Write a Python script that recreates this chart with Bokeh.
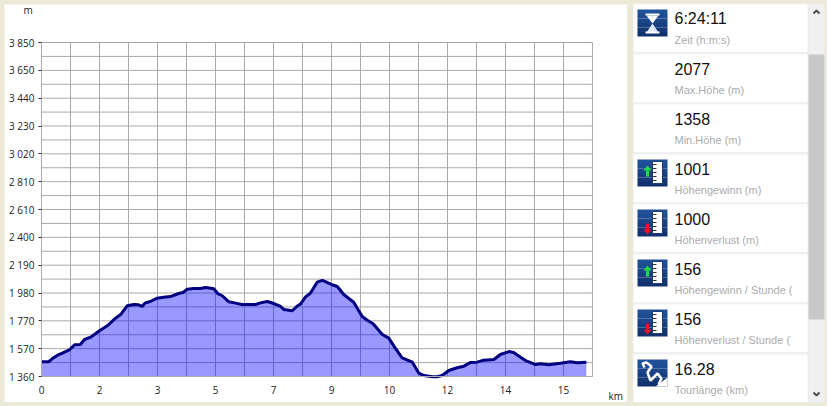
from bokeh.plotting import figure
from bokeh.layouts import row
from bokeh.models import Range1d, FixedTicker, Label
from bokeh.embed import file_html
from bokeh.resources import INLINE
from bokeh.core.properties import value

km = [0.01,0.21,0.31,0.46,0.61,0.83,0.97,1.14,1.26,1.44,1.71,1.94,2.17,2.32,2.51,2.71,2.83,2.95,3.03,3.19,
      3.39,3.58,3.78,4.02,4.15,4.27,4.46,4.66,4.81,5.05,5.17,5.30,5.49,5.69,5.88,6.27,6.42,6.62,6.81,7.01,
      7.10,7.35,7.49,7.59,7.74,7.88,8.08,8.23,8.32,8.52,8.67,8.86,9.15,9.40,9.55,9.72,9.99,10.18,10.38,10.57,
      10.87,11.06,11.21,11.45,11.60,11.74,11.94,12.18,12.38,12.57,12.77,12.96,13.26,13.45,13.70,13.84,14.04,14.19,14.48,14.63,
      14.87,15.21,15.50,15.70,15.97]
elevation = [1470,1470,1492,1517,1534,1561,1596,1599,1636,1653,1703,1740,1795,1822,1887,1897,1895,1882,1907,1919,
             1944,1951,1956,1979,1986,2011,2016,2016,2024,2014,1977,1962,1917,1907,1897,1897,1909,1919,1904,1882,
             1860,1850,1884,1900,1954,1981,2063,2077,2068,2044,2031,1971,1914,1807,1780,1753,1673,1646,1567,1499,
             1467,1385,1367,1358,1358,1367,1405,1425,1437,1464,1467,1482,1487,1524,1546,1539,1504,1479,1449,1455,
             1447,1459,1470,1462,1467]
x_ticks = [0,1.7,3.4,5.1,6.8,8.5,10.2,11.9,13.6,15.3]
x_labels = ["0","2","3","5","7","9","10","12","14","15"]
y_ticks = [1360,1567.5,1775,1982.5,2190,2397.5,2605,2812.5,3020,3227.5,3435,3642.5,3850]
y_labels = ["1 360","1 570","1 770","1 980","2 190","2 400","2 610","2 810","3 020","3 230","3 440","3 650","3 850"]
stat_values = ["6:24:11","2077","1358","1001","1000","156","156","16.28"]
stat_labels = ["Zeit (h:m:s)","Max.Höhe (m)","Min.Höhe (m)","Höhengewinn (m)","Höhenverlust (m)",
               "Höhengewinn  /  Stunde (","Höhenverlust  /  Stunde (","Tourlänge (km)"]
stat_icons = ["time",None,None,"up","down","up","down","route"]

BEIGE = "#ece9d8"
GRID = "#a9a9a9"
XMIN, XMAX = 0, 16.15
YMIN, YMAX = 1360, 3850

p = figure(width=623, height=398, margin=(4,0,4,4), output_backend="svg", toolbar_location=None,
           x_range=Range1d(-1.0845,17.176), y_range=Range1d(1166.2,4133.3),
           min_border_left=0, min_border_right=0, min_border_top=0, min_border_bottom=0,
           background_fill_color="white", border_fill_color="white", outline_line_color=None)
p.grid.visible = False
p.xaxis.fixed_location = YMIN
p.yaxis.fixed_location = XMIN
p.xaxis.bounds = (XMIN, XMAX)
p.yaxis.bounds = (YMIN, YMAX)
p.xaxis.ticker = FixedTicker(ticks=x_ticks)
p.yaxis.ticker = FixedTicker(ticks=y_ticks)
p.xaxis.major_label_overrides = dict(zip(x_ticks, x_labels))
p.yaxis.major_label_overrides = dict(zip(y_ticks, y_labels))
for ax in (p.xaxis, p.yaxis):
    ax.minor_tick_line_color = None
    ax.major_label_text_font = "Open Sans"
    ax.major_label_text_font_size = "10px"
    ax.major_label_text_color = "#222222"
p.xaxis.major_tick_line_color = None
p.xaxis.axis_line_color = GRID
p.yaxis.axis_line_color = GRID
p.yaxis.major_tick_in = 0
p.yaxis.major_tick_out = 3
p.yaxis.major_tick_line_color = "#333333"
p.yaxis.major_label_standoff = 4
p.xaxis.major_label_standoff = 3

grid_x = [0.85*i for i in range(20)]
grid_y = [1360+103.75*i for i in range(25)]
p.segment(x0=grid_x, x1=grid_x, y0=[YMIN]*20, y1=[YMAX]*20, line_color=GRID, line_width=1)
p.segment(x0=[XMIN]*25, x1=[XMAX]*25, y0=grid_y, y1=grid_y, line_color=GRID, line_width=1)

p.varea(x=km, y1=[1360]*len(km), y2=elevation, fill_color="#0000ff", fill_alpha=0.4)
p.line(km, elevation, line_color="#000080", line_width=3)

p.add_layout(Label(x=-0.53, y=4092, text="m", text_baseline="alphabetic",
                   text_font="Open Sans", text_font_size="10px", text_color="#222222"))
p.add_layout(Label(x=16.62, y=1211, text="km", text_baseline="alphabetic",
                   text_font="Open Sans", text_font_size="10px", text_color="#222222"))

s = figure(width=200, height=406, margin=(0,0,0,0), output_backend="svg", toolbar_location=None,
           x_range=Range1d(627,827), y_range=Range1d(406,0),
           min_border_left=0, min_border_right=0, min_border_top=0, min_border_bottom=0,
           background_fill_color=BEIGE, border_fill_color=BEIGE, outline_line_color=None)
s.axis.visible = False
s.grid.visible = False

# scroll bar
s.quad(left=[808], right=[824], top=[3], bottom=[402], fill_color="#f0f0f0", line_color=None)
s.quad(left=[808], right=[824], top=[54], bottom=[319], fill_color="#c8c8c8", line_color=None)
s.line([813,816,819],[13,10,13], line_color="#505050", line_width=2)
s.line([813,816,819],[392,395,392], line_color="#505050", line_width=2)
# separators behind the tiles
s.quad(left=[633], right=[807], top=[3], bottom=[402], fill_color="#f0f0f0", line_color=None)

def icon(kind, top):
    left = 637
    shades = ["#1f5199","#1d4c92","#1a4589","#173e80","#143776","#12316f"]
    for i, c in enumerate(shades):
        s.quad(left=[left], right=[left+30], top=[top+i*4.5], bottom=[top+(i+1)*4.5], fill_color=c, line_color=None)
    if kind == "time":
        s.patch([left+9,left+21,left+15],[top+6,top+6,top+14], fill_color="white", line_color=None)
        s.patch([left+9,left+21,left+15],[top+23,top+23,top+14], fill_color="#dfe7f2", line_color=None)
        s.line([left+8,left+22],[top+5,top+5], line_color="white", line_width=2)
        s.line([left+8,left+22],[top+23,top+23], line_color="white", line_width=2)
    elif kind in ("up","down"):
        s.quad(left=[left+15], right=[left+25], top=[top+2], bottom=[top+24], fill_color="white", line_color="#1a3a70")
        s.multi_line([[left+15,left+19]]*5, [[top+5+i*4]*2 for i in range(5)], line_color="#333333", line_width=1)
        if kind == "up":
            s.quad(left=[left+8.5], right=[left+11.5], top=[top+11], bottom=[top+17], fill_color="#18e040", line_color=None)
            s.patch([left+6,left+14,left+10],[top+11,top+11,top+6], fill_color="#18e040", line_color=None)
        else:
            s.quad(left=[left+8.5], right=[left+11.5], top=[top+14], bottom=[top+20], fill_color="#f01020", line_color=None)
            s.patch([left+6,left+14,left+10],[top+20,top+20,top+25], fill_color="#f01020", line_color=None)
    elif kind == "route":
        s.line([left+7,left+5,left+9,left+14,left+10,left+13,left+20,left+24,left+21],
               [top+8,top+4,top+3,top+7,top+13,top+21,top+14,top+19,top+25],
               line_color="white", line_width=2.5)
        s.patch([left+18,left+30,left+30],[top+27,top+27,top+18], fill_color="white", line_color=None)

for i, (v, l, k) in enumerate(zip(stat_values, stat_labels, stat_icons)):
    top = 4 + i*50
    h = 47.5
    s.quad(left=[633], right=[807], top=[top], bottom=[top+h], fill_color="white", line_color=None)
    if k:
        icon(k, top+5)
    s.text(x=[674], y=[top+14], text=[v], text_font=value("Liberation Sans"), text_font_size="16px",
           text_color="#111111", text_baseline="middle")
    s.text(x=[674], y=[top+35], text=[l], text_font=value("Liberation Sans"), text_font_size="11px",
           text_color="#ababab", text_baseline="middle")

layout = row(p, s, spacing=0, margin=(0,0,0,0), styles={"background":BEIGE})
html = file_html(layout, INLINE)
open("out.html", "w").write(html)
